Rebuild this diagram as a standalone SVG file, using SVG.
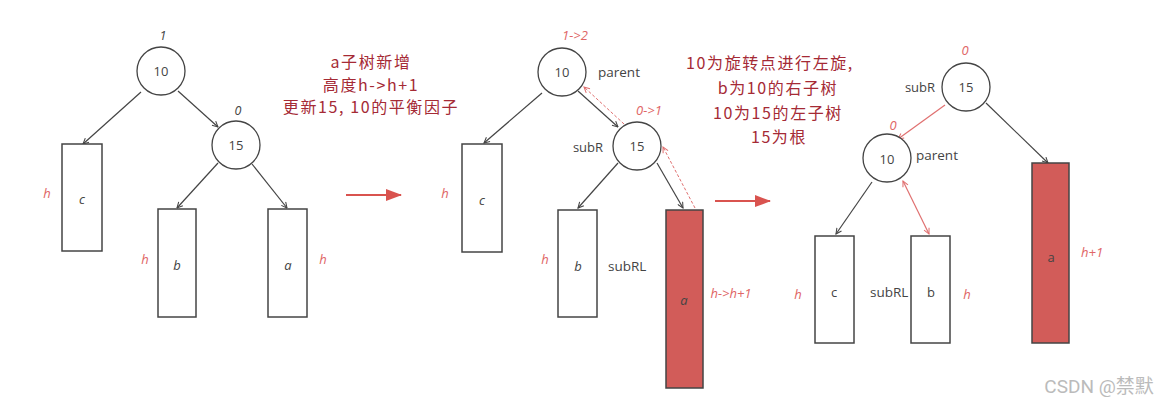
<svg xmlns="http://www.w3.org/2000/svg" width="1169" height="405" viewBox="0 0 1169 405">
<defs>
<marker id="ah" viewBox="0 0 10 10" refX="9" refY="5" markerWidth="7" markerHeight="7" orient="auto" markerUnits="userSpaceOnUse">
<path d="M1,1 L9,5 L1,9" fill="none" stroke="#444" stroke-width="1.5"/>
</marker>
<marker id="ahr" viewBox="0 0 10 10" refX="9" refY="5" markerWidth="7" markerHeight="7" orient="auto" markerUnits="userSpaceOnUse">
<path d="M1,1 L9,5 L1,9" fill="none" stroke="#e07070" stroke-width="1.5"/>
</marker>
<marker id="ahrs" viewBox="0 0 10 10" refX="1" refY="5" markerWidth="7" markerHeight="7" orient="auto" markerUnits="userSpaceOnUse">
<path d="M9,1 L1,5 L9,9" fill="none" stroke="#e07070" stroke-width="1.5"/>
</marker>
<marker id="big" viewBox="0 0 16 12" refX="15" refY="6" markerWidth="16" markerHeight="12" orient="auto" markerUnits="userSpaceOnUse">
<path d="M0,0 L16,6 L0,12 Z" fill="#d9534f"/>
</marker>
</defs>
<style>
.n{fill:#fff;stroke:#444;stroke-width:1.3}
.box{fill:#fff;stroke:#444;stroke-width:1.5}
.boxr{fill:#d25c59;stroke:#444;stroke-width:1.5}
.e{stroke:#444;stroke-width:1.2;fill:none;marker-end:url(#ah)}
.er{stroke:#e07070;stroke-width:1.2;fill:none;marker-end:url(#ahr)}
.ed{stroke:#e07070;stroke-width:1;fill:none;stroke-dasharray:3 2;marker-end:url(#ahr)}
.big{stroke:#d9534f;stroke-width:2;fill:none;marker-end:url(#big)}
.t{font-family:"Open Sans","DejaVu Sans",sans-serif;font-size:13px;fill:#444;text-anchor:middle;dominant-baseline:central}
.tl{font-family:"Open Sans","DejaVu Sans",sans-serif;font-size:13.5px;fill:#444;dominant-baseline:central}
.it{font-family:"Open Sans","DejaVu Sans",sans-serif;font-size:13px;fill:#444;font-style:italic;text-anchor:middle;dominant-baseline:central}
.r{font-family:"Open Sans","DejaVu Sans",sans-serif;font-size:13px;fill:#e06666;font-style:italic;text-anchor:middle;dominant-baseline:central}
.bf{font-family:"Open Sans","DejaVu Sans",sans-serif;font-size:12.5px;fill:#444;font-style:italic;text-anchor:middle;dominant-baseline:central}
.cn{font-family:"Noto Sans CJK SC","Noto Sans",sans-serif;font-size:16px;letter-spacing:1.6px;fill:#a52a35;text-anchor:middle;dominant-baseline:central}
</style>

<g id="connectors">
<!-- panel 1 -->
<line class="e" x1="141" y1="92" x2="83" y2="144"/>
<line class="e" x1="178" y1="91" x2="218" y2="127"/>
<line class="e" x1="218" y1="163" x2="177" y2="208"/>
<line class="e" x1="252" y1="164" x2="287" y2="208"/>
<!-- transitions -->
<line class="big" x1="346" y1="195" x2="401" y2="195"/>
<line class="big" x1="715" y1="201" x2="770" y2="201"/>
<!-- panel 2 -->
<line class="e" x1="542" y1="93" x2="484" y2="143"/>
<line class="e" x1="578" y1="91" x2="618" y2="127"/>
<line class="e" x1="618" y1="163" x2="578" y2="208"/>
<line class="e" x1="657" y1="163" x2="683" y2="208"/>
<line class="ed" x1="695" y1="208" x2="663" y2="147"/>
<line class="ed" x1="624" y1="124" x2="584" y2="87"/>
<!-- panel 3 -->
<line class="er" x1="945" y1="105" x2="898" y2="139"/>
<line class="e" x1="872" y1="182" x2="836" y2="234"/>
<line class="er" x1="903" y1="181" x2="929" y2="234" style="marker-start:url(#ahrs)"/>
<line class="e" x1="986" y1="103" x2="1048" y2="163"/>
</g>

<!-- Panel 1 -->
<g id="p1-n10"><circle class="n" cx="161" cy="71" r="24"/><text class="t" x="161" y="71">10</text><text class="bf" x="163" y="35">1</text></g>
<g id="p1-n15"><circle class="n" cx="236" cy="145" r="24"/><text class="t" x="236" y="145">15</text><text class="bf" x="238" y="110">0</text></g>
<g id="p1-c"><rect class="box" x="62" y="144" width="40" height="107"/><text class="it" x="82" y="199">c</text><text class="r" x="47" y="193">h</text></g>
<g id="p1-b"><rect class="box" x="158" y="209" width="38" height="108"/><text class="it" x="177" y="265">b</text><text class="r" x="145" y="259">h</text></g>
<g id="p1-a"><rect class="box" x="268" y="209" width="39" height="108"/><text class="it" x="288" y="265">a</text><text class="r" x="323" y="259">h</text></g>

<g id="note1">
<text class="cn" x="371" y="61">a子树新增</text>
<text class="cn" x="371" y="84">高度h-&gt;h+1</text>
<text class="cn" x="371" y="106">更新15, 10的平衡因子</text>
</g>

<!-- Panel 2 -->
<g id="p2-n10"><circle class="n" cx="562" cy="72" r="24"/><text class="t" x="562" y="72">10</text><text class="r" x="575" y="35">1-&gt;2</text><text class="tl" x="598" y="72">parent</text></g>
<g id="p2-n15"><circle class="n" cx="637" cy="146" r="24"/><text class="t" x="637" y="146">15</text><text class="r" x="649" y="110">0-&gt;1</text><text class="t" x="588" y="147">subR</text></g>
<g id="p2-c"><rect class="box" x="462" y="144" width="40" height="108"/><text class="it" x="482" y="200">c</text><text class="r" x="445" y="193">h</text></g>
<g id="p2-b"><rect class="box" x="558" y="210" width="39" height="107"/><text class="it" x="578" y="266">b</text><text class="r" x="545" y="259">h</text><text class="tl" x="608" y="266">subRL</text></g>
<g id="p2-a"><rect class="boxr" x="666" y="210" width="37" height="178"/><text class="it" x="684" y="300">a</text><text class="r" x="731" y="293">h-&gt;h+1</text></g>

<g id="note2">
<text class="cn" x="770" y="62">10为旋转点进行左旋,</text>
<text class="cn" x="778" y="87">b为10的右子树</text>
<text class="cn" x="778" y="112">10为15的左子树</text>
<text class="cn" x="779" y="136">15为根</text>
</g>

<!-- Panel 3 -->
<g id="p3-n15"><circle class="n" cx="966" cy="87" r="24"/><text class="t" x="966" y="87">15</text><text class="r" x="965" y="50">0</text><text class="t" x="920" y="87">subR</text></g>
<g id="p3-n10"><circle class="n" cx="887" cy="158" r="24"/><text class="t" x="887" y="159">10</text><text class="r" x="893" y="125">0</text><text class="tl" x="916" y="155">parent</text></g>
<g id="p3-c"><rect class="box" x="815" y="236" width="39" height="107"/><text class="t" x="834" y="292">c</text><text class="r" x="798" y="294">h</text></g>
<g id="p3-b"><rect class="box" x="911" y="236" width="39" height="107"/><text class="t" x="931" y="292">b</text><text class="r" x="967" y="294">h</text><text class="tl" x="870" y="292">subRL</text></g>
<g id="p3-a"><rect class="boxr" x="1032" y="163" width="37" height="180"/><text class="t" x="1051" y="257">a</text><text class="r" x="1092" y="252">h+1</text></g>

<text x="1099" y="386" font-family="Roboto,&quot;Noto Sans CJK SC&quot;,sans-serif" font-size="19" fill="#bbb" text-anchor="middle" dominant-baseline="central">CSDN @禁默</text>
</svg>
